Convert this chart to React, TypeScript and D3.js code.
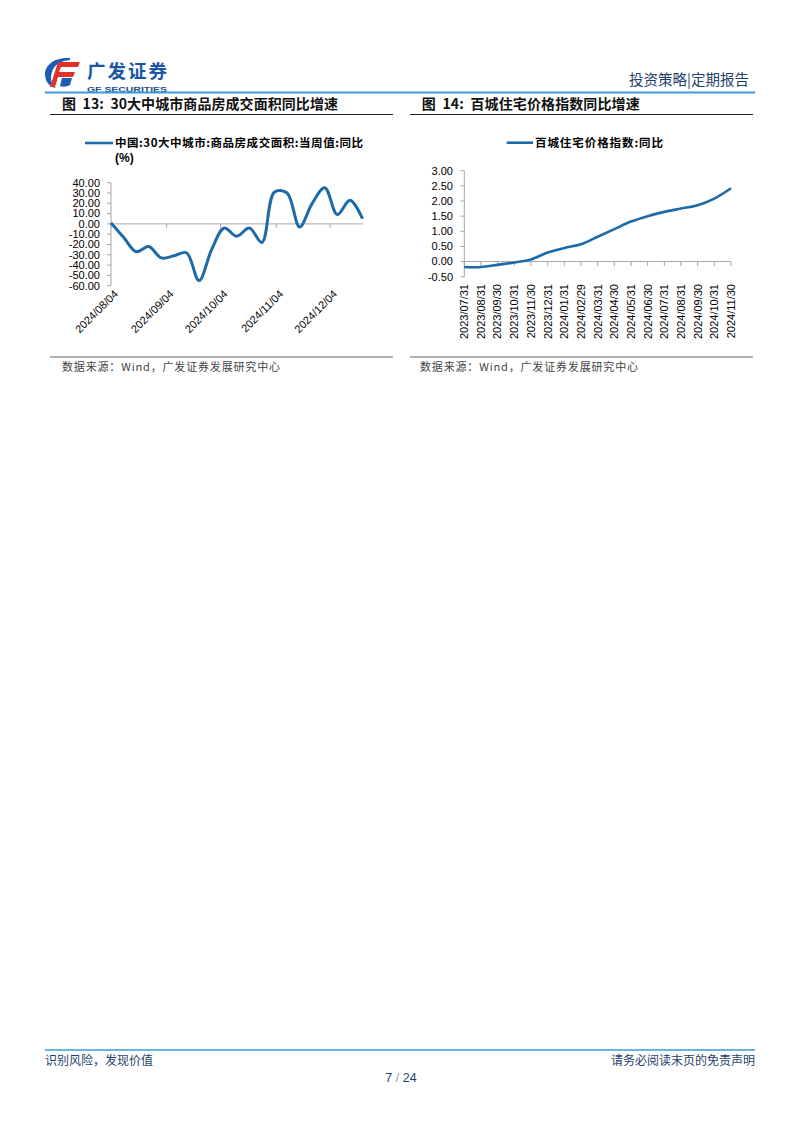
import React from 'react';
import * as d3 from 'd3';

// ---------- Data ----------
const c1Dates = [
  '2024-08-04', '2024-08-11', '2024-08-18', '2024-08-25', '2024-09-01', '2024-09-08', '2024-09-15',
  '2024-09-22', '2024-09-29', '2024-10-06', '2024-10-13', '2024-10-20', '2024-10-27', '2024-11-03',
  '2024-11-10', '2024-11-17', '2024-11-24', '2024-12-01', '2024-12-08', '2024-12-15', '2024-12-22',
];
const c1Values = [1, -13, -27, -22, -33, -31, -28, -55, -25, -4, -12, -4, -18, 31, 30, -3, 20, 35, 9, 23, 5];
const c1TickDates = ['2024-08-04', '2024-09-04', '2024-10-04', '2024-11-04', '2024-12-04'];
const c1TickLabels = ['2024/08/04', '2024/09/04', '2024/10/04', '2024/11/04', '2024/12/04'];
const c1YTicks = [40, 30, 20, 10, 0, -10, -20, -30, -40, -50, -60];

const c2Categories = [
  '2023/07/31', '2023/08/31', '2023/09/30', '2023/10/31', '2023/11/30', '2023/12/31', '2024/01/31',
  '2024/02/29', '2024/03/31', '2024/04/30', '2024/05/31', '2024/06/30', '2024/07/31', '2024/08/31',
  '2024/09/30', '2024/10/31', '2024/11/30',
];
const c2Values = [-0.18, -0.18, -0.11, -0.03, 0.07, 0.3, 0.45, 0.57, 0.82, 1.07, 1.32, 1.5, 1.64, 1.75, 1.86, 2.08, 2.42];
const c2YTicks = [3, 2.5, 2, 1.5, 1, 0.5, 0, -0.5];

const title1 = '图\u00a0\u00a013:\u00a0\u00a030大中城市商品房成交面积同比增速';
const title2 = '图\u00a0\u00a014:\u00a0\u00a0百城住宅价格指数同比增速';
const legend1a = '中国:30大中城市:商品房成交面积:当周值:同比';
const legend1b = '(%)';
const legend2 = '百城住宅价格指数:同比';
const sourceText = '数据来源：Wind，广发证券发展研究中心';

const SERIES = '#1d6aa8';
const AXIS = '#a6a6a6';
const FONT = 'Liberation Sans, Arial, Noto Sans CJK SC, sans-serif';
const CJK = 'Noto Sans CJK SC, sans-serif';
const HEAD = '#1f3f6e';
const BLUE_LINE = '#3a9bd8';

function Chart1() {
  const parse = d3.timeParse('%Y-%m-%d');
  const dates = c1Dates.map((d) => parse(d) as Date);
  const x = d3.scaleTime().domain([dates[0], dates[dates.length - 1]]).range([111, 362.5]);
  const y = d3.scaleLinear().domain([-60, 40]).range([285.7, 182.7]);
  const line = d3
    .line<number>()
    .x((_, i) => x(dates[i]))
    .y((v) => y(v))
    .curve(d3.curveCatmullRom.alpha(0.5));
  const ticks = c1TickDates.map((d) => parse(d) as Date);
  return (
    <g>
      <line x1={111} x2={111} y1={y(40)} y2={y(-60)} stroke={AXIS} strokeWidth={1} />
      {c1YTicks.map((t) => (
        <g key={t}>
          <line x1={107} x2={111} y1={y(t)} y2={y(t)} stroke={AXIS} />
          <text x={100} y={y(t)} dy="0.35em" textAnchor="end" fontSize={11} fontFamily={FONT} fill="#000">
            {t.toFixed(2)}
          </text>
        </g>
      ))}
      <line x1={111} x2={363} y1={y(0)} y2={y(0)} stroke={AXIS} strokeWidth={1} />
      {ticks.map((d, i) => (
        <g key={i}>
          <line x1={x(d)} x2={x(d)} y1={y(0)} y2={y(0) + 4} stroke={AXIS} />
          <text
            transform={`translate(${x(d) + 5},${292}) rotate(-45)`}
            textAnchor="end"
            dy="0.35em"
            fontSize={11}
            fontFamily={FONT}
            fill="#000"
          >
            {c1TickLabels[i]}
          </text>
        </g>
      ))}
      <path d={line(c1Values) || ''} fill="none" stroke={SERIES} strokeWidth={3} strokeLinejoin="round" />
    </g>
  );
}

function Chart2() {
  const x = d3.scalePoint<string>().domain(c2Categories).range([464.3, 731]);
  const y = d3.scaleLinear().domain([-0.5, 3]).range([276.7, 170.7]);
  const line = d3
    .line<number>()
    .x((_, i) => x(c2Categories[i]) as number)
    .y((v) => y(v))
    .curve(d3.curveCatmullRom.alpha(0.5));
  return (
    <g>
      <line x1={464.3} x2={464.3} y1={y(3)} y2={y(-0.5)} stroke={AXIS} />
      {c2YTicks.map((t) => (
        <g key={t}>
          <line x1={460.5} x2={464.3} y1={y(t)} y2={y(t)} stroke={AXIS} />
          <text x={453} y={y(t)} dy="0.35em" textAnchor="end" fontSize={11} fontFamily={FONT} fill="#000">
            {t.toFixed(2)}
          </text>
        </g>
      ))}
      <line x1={464.3} x2={731} y1={y(0)} y2={y(0)} stroke={AXIS} />
      {c2Categories.map((c) => (
        <g key={c}>
          <line x1={x(c)} x2={x(c)} y1={y(0)} y2={y(0) + 4.5} stroke={AXIS} />
          <text
            transform={`translate(${x(c)},${284}) rotate(-90)`}
            textAnchor="end"
            dy="0.35em"
            fontSize={11}
            fontFamily={FONT}
            fill="#000"
          >
            {c}
          </text>
        </g>
      ))}
      <path d={line(c2Values) || ''} fill="none" stroke={SERIES} strokeWidth={2.6} strokeLinejoin="round" />
    </g>
  );
}

function Logo() {
  return (
    <g>
      <path d="M70,58 C56,57 45,64 45,74 C45,82 50,87 56,88 C51,84 50,78 52,72 C54,65 60,61 70,60 Z" fill="#1a5fb4" />
      <path d="M58,62 L80,62 L78,67 L61,67 L59,72 L75,72 L73,77 L58,77 L55,87 L50,87 Z" fill="#e0312b" />
      <path d="M62,78 L72,78 L70,85 C67,87 62,87 60,86 Z" fill="#1a5fb4" />
      <text x={87} y={78} fontSize={18.5} fontWeight="bold" fontFamily={CJK} fill="#1b56a6" textLength={80} lengthAdjust="spacing">
        广发证券
      </text>
      <text x={87} y={91.5} fontSize={8} fontWeight="bold" fontFamily={FONT} fill="#1b4f8f" textLength={80} lengthAdjust="spacingAndGlyphs">
        GF SECURITIES
      </text>
    </g>
  );
}

export default function App() {
  return (
    <svg width={802} height={1133} style={{ position: 'absolute', left: 0, top: 0, background: '#fff' }}>
      <rect x={0} y={0} width={802} height={1133} fill="#fff" />
      <Logo />
      <text x={749} y={85} textAnchor="end" fontSize={14.5} fontFamily={CJK} fill={HEAD}>
        投资策略|定期报告
      </text>
      <line x1={45} x2={755} y1={92.5} y2={92.5} stroke={BLUE_LINE} strokeWidth={2} />

      <text x={62} y={109} fontSize={14} fontWeight="bold" fontFamily={CJK} fill="#111" textLength={276} lengthAdjust="spacing">
        {title1}
      </text>
      <line x1={50} x2={393} y1={114.5} y2={114.5} stroke="#222" strokeWidth={1} />
      <text x={421.7} y={109} fontSize={14} fontWeight="bold" fontFamily={CJK} fill="#111" textLength={218} lengthAdjust="spacing">
        {title2}
      </text>
      <line x1={410} x2={753} y1={114.5} y2={114.5} stroke="#222" strokeWidth={1} />

      <line x1={85} x2={113} y1={143} y2={143} stroke={SERIES} strokeWidth={2.6} />
      <text x={115} y={147} fontSize={11.5} fontWeight="bold" fontFamily={CJK} fill="#000" textLength={248} lengthAdjust="spacing">
        {legend1a}
      </text>
      <text x={115} y={162} fontSize={12} fontWeight="bold" fontFamily={FONT} fill="#000">
        {legend1b}
      </text>
      <line x1={506.7} x2={533} y1={142.7} y2={142.7} stroke={SERIES} strokeWidth={2.6} />
      <text x={535} y={147} fontSize={11.5} fontWeight="bold" fontFamily={CJK} fill="#000" textLength={128} lengthAdjust="spacing">
        {legend2}
      </text>

      <Chart1 />
      <Chart2 />

      <line x1={50} x2={393} y1={357} y2={357} stroke="#999" strokeWidth={1.5} />
      <line x1={410} x2={753} y1={357} y2={357} stroke="#999" strokeWidth={1.5} />
      <text x={62} y={371} fontSize={11} fontFamily={CJK} fill="#444" textLength={218} lengthAdjust="spacing">
        {sourceText}
      </text>
      <text x={420} y={371} fontSize={11} fontFamily={CJK} fill="#444" textLength={218} lengthAdjust="spacing">
        {sourceText}
      </text>

      <line x1={45} x2={755} y1={1050} y2={1050} stroke={BLUE_LINE} strokeWidth={1.5} />
      <text x={45} y={1065} fontSize={12} fontFamily={CJK} fill={HEAD}>
        识别风险，发现价值
      </text>
      <text x={755} y={1065} textAnchor="end" fontSize={12} fontFamily={CJK} fill={HEAD}>
        请务必阅读末页的免责声明
      </text>
      <text x={401} y={1082} textAnchor="middle" fontSize={12.5} fontFamily={FONT} fill={HEAD}>
        7 <tspan fill="#999">/</tspan> 24
      </text>
    </svg>
  );
}
